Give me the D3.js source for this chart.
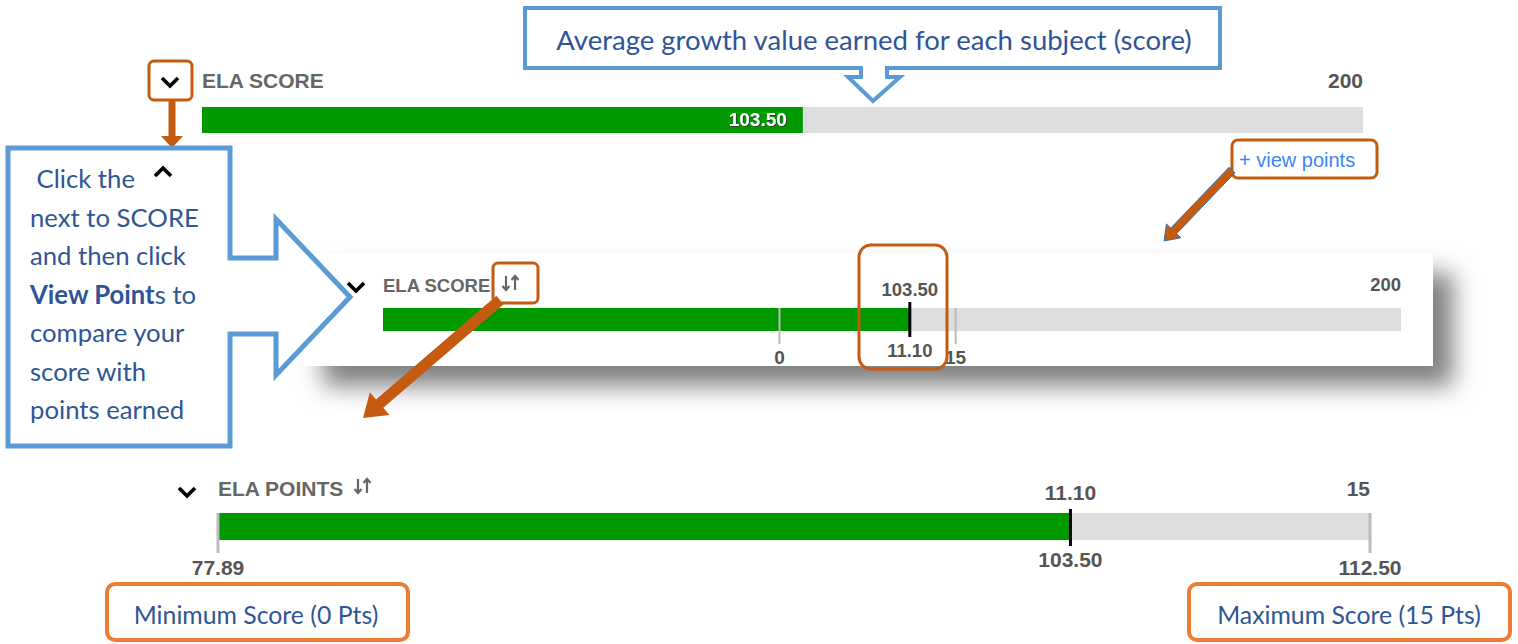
<!DOCTYPE html>
<html>
<head>
<meta charset="utf-8">
<script src="https://cdn.jsdelivr.net/npm/d3@7"></script>
<style>
  body { margin: 0; background: #fff; }
  svg { display: block; }
  .lbl { font-family: "Liberation Sans", Arial, sans-serif; font-weight: bold; fill: #666; }
  .num { font-family: "Liberation Sans", Arial, sans-serif; font-weight: bold; fill: #555; }
  .note { font-family: Lato, "Open Sans", sans-serif; fill: #2F5597; }
</style>
</head>
<body>
<svg id="chart"></svg>
<script>
// data
var subject = ["ELA"];
var scoreDomain = [0, 200];           // score scale of the subject bar
var pointsDomain = [0, 15];           // points that can be earned
var pointsScoreBounds = [77.89, 112.50]; // score earning 0 pts and 15 pts
var elaScore = [103.50];
var elaPoints = [11.10];
var calloutTop = ["Average growth value earned for each subject (score)"];
var calloutLeft = [" Click the", "next to SCORE", "and then click", "View Points to", "compare your", "score with", "points earned"];
var boxNotes = ["Minimum Score (0 Pts)", "Maximum Score (15 Pts)"];

var width = 1518, height = 644;
var fmt = d3.format(".2f");
var green = "#009900", track = "#dddddd", orange = "#C55A11", blue = "#5B9BD5";

var svg = d3.select("#chart").attr("width", width).attr("height", height);

var defs = svg.append("defs");
var shadow = defs.append("filter").attr("id", "shadow")
    .attr("x", "-20%").attr("y", "-60%").attr("width", "140%").attr("height", "220%");
shadow.append("feDropShadow")
    .attr("dx", 20).attr("dy", 20).attr("stdDeviation", 12)
    .attr("flood-color", "#000").attr("flood-opacity", 0.5);
var txtShadow = defs.append("filter").attr("id", "txtShadow");
txtShadow.append("feDropShadow")
    .attr("dx", 1).attr("dy", 1).attr("stdDeviation", 0.4)
    .attr("flood-color", "#333").attr("flood-opacity", 0.8);

function chevron(g, cx, cy, up) {
  var s = up ? -1 : 1;
  g.append("path")
    .attr("d", `M${cx - 8},${cy - 4 * s} L${cx},${cy + 4 * s} L${cx + 8},${cy - 4 * s}`)
    .attr("fill", "none").attr("stroke", "#000").attr("stroke-width", 3.6);
}

function sortIcon(g, x, y, h) {
  // down arrow then up arrow
  var c = "#666";
  g.append("path")
    .attr("d", `M${x},${y} V${y + h} M${x - 3.5},${y + h - 4} L${x},${y + h} L${x + 3.5},${y + h - 4}`)
    .attr("fill", "none").attr("stroke", c).attr("stroke-width", 2.2);
  g.append("path")
    .attr("d", `M${x + 9},${y + h} V${y} M${x + 5.5},${y + 4} L${x + 9},${y} L${x + 12.5},${y + 4}`)
    .attr("fill", "none").attr("stroke", c).attr("stroke-width", 2.2);
}

function arrow(g, x1, y1, x2, y2, w, hw, hl) {
  var dx = x2 - x1, dy = y2 - y1, len = Math.hypot(dx, dy);
  var ux = dx / len, uy = dy / len, px = -uy, py = ux;
  var bx = x2 - ux * hl, by = y2 - uy * hl;
  var pts = [
    [x1 + px * w / 2, y1 + py * w / 2],
    [bx + px * w / 2, by + py * w / 2],
    [bx + px * hw / 2, by + py * hw / 2],
    [x2, y2],
    [bx - px * hw / 2, by - py * hw / 2],
    [bx - px * w / 2, by - py * w / 2],
    [x1 - px * w / 2, y1 - py * w / 2]
  ];
  return g.append("polygon").attr("points", pts.map(p => p.join(",")).join(" "))
    .attr("fill", orange);
}

function roundBox(g, x, y, w, h, r, color, sw) {
  g.append("rect").attr("x", x).attr("y", y).attr("width", w).attr("height", h)
    .attr("rx", r).attr("fill", "none").attr("stroke", color).attr("stroke-width", sw);
}

// ---------- top: score bar ----------
var topG = svg.append("g");
var xTop = d3.scaleLinear().domain(scoreDomain).range([202, 1363]);

topG.append("text").classed("lbl", true)
    .attr("x", xTop(scoreDomain[0])).attr("y", 88)
    .style("font-size", "21px")
    .text(`${subject[0]} SCORE`);
topG.append("text").classed("num", true)
    .attr("x", xTop(scoreDomain[1])).attr("y", 88)
    .attr("text-anchor", "end").style("font-size", "21px")
    .text(scoreDomain[1]);
topG.append("rect")
    .attr("x", xTop(scoreDomain[0])).attr("y", 107)
    .attr("width", xTop(scoreDomain[1]) - xTop(scoreDomain[0])).attr("height", 26)
    .attr("fill", track);
topG.selectAll(".bar").data(elaScore).enter().append("rect").classed("bar", true)
    .attr("x", xTop(scoreDomain[0])).attr("y", 107)
    .attr("width", d => xTop(d) - xTop(scoreDomain[0])).attr("height", 26)
    .attr("fill", green);
topG.selectAll(".val").data(elaScore).enter().append("text").classed("val", true)
    .attr("x", d => xTop(d) - 16).attr("y", 126)
    .attr("text-anchor", "end")
    .attr("filter", "url(#txtShadow)")
    .style("font-family", "'Liberation Sans', Arial, sans-serif")
    .style("font-weight", "bold").style("font-size", "19px").style("fill", "#fff")
    .text(d => fmt(d));
chevron(topG, 170, 82, false);

// ---------- middle: score bar with points ticks ----------
var mid = svg.append("g");
mid.append("rect")
    .attr("x", 303).attr("y", 253).attr("width", 1130).attr("height", 113)
    .attr("fill", "#fff").attr("filter", "url(#shadow)");
var xMid = d3.scaleLinear().domain(scoreDomain).range([383, 1401]);

mid.append("text").classed("lbl", true)
    .attr("x", xMid(scoreDomain[0])).attr("y", 292)
    .style("font-size", "18.5px")
    .text(`${subject[0]} SCORE`);
mid.append("text").classed("num", true)
    .attr("x", xMid(scoreDomain[1])).attr("y", 291)
    .attr("text-anchor", "end").style("font-size", "18.5px")
    .text(scoreDomain[1]);
mid.append("rect")
    .attr("x", xMid(scoreDomain[0])).attr("y", 308)
    .attr("width", xMid(scoreDomain[1]) - xMid(scoreDomain[0])).attr("height", 23)
    .attr("fill", track);
mid.selectAll(".bar").data(elaScore).enter().append("rect").classed("bar", true)
    .attr("x", xMid(scoreDomain[0])).attr("y", 308)
    .attr("width", d => xMid(d) - xMid(scoreDomain[0])).attr("height", 23)
    .attr("fill", green);
// points ticks (0 pts and 15 pts on the score scale)
mid.selectAll(".ptick").data(pointsScoreBounds).enter().append("line").classed("ptick", true)
    .attr("x1", d => xMid(d)).attr("x2", d => xMid(d))
    .attr("y1", 308).attr("y2", 344)
    .attr("stroke", "#bbb").attr("stroke-width", 2);
mid.selectAll(".plbl").data(pointsScoreBounds).enter().append("text").classed("plbl num", true)
    .attr("x", d => xMid(d)).attr("y", 364)
    .attr("text-anchor", "middle").style("font-size", "19px")
    .text((d, i) => pointsDomain[i]);
mid.selectAll(".mark").data(elaScore).enter().append("line").classed("mark", true)
    .attr("x1", d => xMid(d)).attr("x2", d => xMid(d))
    .attr("y1", 302).attr("y2", 337)
    .attr("stroke", "#000").attr("stroke-width", 3);
mid.selectAll(".sval").data(elaScore).enter().append("text").classed("num", true)
    .attr("x", d => xMid(d)).attr("y", 296)
    .attr("text-anchor", "middle").style("font-size", "18.5px")
    .text(d => fmt(d));
mid.selectAll(".pval").data(elaPoints).enter().append("text").classed("num", true)
    .attr("x", (d, i) => xMid(elaScore[i])).attr("y", 357)
    .attr("text-anchor", "middle").style("font-size", "18.5px")
    .text(d => fmt(d));
chevron(mid, 356, 287, false);
sortIcon(mid, 506, 276, 14);

// ---------- bottom: points bar ----------
var bot = svg.append("g");
var xBot = d3.scaleLinear().domain(pointsScoreBounds).range([218, 1370]);
var xPts = d3.scaleLinear().domain(pointsDomain).range([218, 1370]);

bot.append("text").classed("lbl", true)
    .attr("x", xPts(pointsDomain[0])).attr("y", 496)
    .style("font-size", "21px")
    .text(`${subject[0]} POINTS`);
bot.append("text").classed("num", true)
    .attr("x", xPts(pointsDomain[1])).attr("y", 496)
    .attr("text-anchor", "end").style("font-size", "21px")
    .text(pointsDomain[1]);
bot.append("rect")
    .attr("x", xPts(pointsDomain[0])).attr("y", 513)
    .attr("width", xPts(pointsDomain[1]) - xPts(pointsDomain[0])).attr("height", 27)
    .attr("fill", track);
bot.selectAll(".bar").data(elaPoints).enter().append("rect").classed("bar", true)
    .attr("x", xPts(pointsDomain[0])).attr("y", 513)
    .attr("width", d => xPts(d) - xPts(pointsDomain[0])).attr("height", 27)
    .attr("fill", green);
bot.selectAll(".stick").data(pointsScoreBounds).enter().append("line").classed("stick", true)
    .attr("x1", d => xBot(d)).attr("x2", d => xBot(d))
    .attr("y1", 513).attr("y2", 553)
    .attr("stroke", "#bbb").attr("stroke-width", 3);
bot.selectAll(".slbl").data(pointsScoreBounds).enter().append("text").classed("num", true)
    .attr("x", d => xBot(d)).attr("y", 575)
    .attr("text-anchor", "middle").style("font-size", "21px")
    .text(d => fmt(d));
bot.selectAll(".mark").data(elaScore).enter().append("line").classed("mark", true)
    .attr("x1", d => xBot(d)).attr("x2", d => xBot(d))
    .attr("y1", 509).attr("y2", 546)
    .attr("stroke", "#000").attr("stroke-width", 3);
bot.selectAll(".sval").data(elaScore).enter().append("text").classed("num", true)
    .attr("x", d => xBot(d)).attr("y", 567)
    .attr("text-anchor", "middle").style("font-size", "21px")
    .text(d => fmt(d));
bot.selectAll(".pval").data(elaPoints).enter().append("text").classed("num", true)
    .attr("x", d => xPts(d)).attr("y", 500)
    .attr("text-anchor", "middle").style("font-size", "21px")
    .text(d => fmt(d));
chevron(bot, 187, 492, false);
sortIcon(bot, 358, 479, 14);

// ---------- annotations ----------
var ann = svg.append("g");

// top callout
ann.append("path")
    .attr("d", "M525,8 H1220 V68 H887 V77 H900 L873,101 L848,77 H861 V68 H525 Z")
    .attr("fill", "#fff").attr("stroke", blue).attr("stroke-width", 4);
ann.append("text").classed("note", true)
    .attr("x", 874).attr("y", 50).attr("text-anchor", "middle")
    .style("font-size", "27.5px")
    .text(calloutTop[0]);

// chevron box + arrow down to left callout
roundBox(ann, 149, 61, 43, 39, 5, orange, 3);
arrow(ann, 172, 101, 172, 148, 7, 22, 12);

// left callout
ann.append("path")
    .attr("d", "M8,148 H230 V258 H276 V219 L350,297 L276,375 V334 H230 V446 H8 Z")
    .attr("fill", "#fff").attr("stroke", blue).attr("stroke-width", 5);
var lt = ann.append("text").classed("note", true).style("font-size", "25.7px");
calloutLeft.forEach(function(line, i) {
  var t = lt.append("tspan").attr("x", 30).attr("y", 188 + i * 38.5)
      .attr("xml:space", "preserve");
  if (line.indexOf("View Point") === 0) {
    t.append("tspan").style("font-weight", "bold").text("View Point");
    t.append("tspan").text(line.slice("View Point".length));
  } else {
    t.text(line);
  }
});
chevron(ann, 163, 172, true);

// view points link
roundBox(ann, 1232, 140, 145, 38, 6, orange, 3);
ann.append("text")
    .attr("x", 1239).attr("y", 167)
    .style("font-family", "'Liberation Sans', Arial, sans-serif")
    .style("font-size", "20px").style("fill", "#3D85F5")
    .text("+ view points");
arrow(ann, 1232, 170, 1164, 241, 8, 20, 14)
    .attr("stroke", "#2E75B6").attr("stroke-width", 1);

// sort icon box + arrow
roundBox(ann, 493, 263, 45, 40, 5, orange, 3);
arrow(ann, 500, 300, 363, 418, 11, 30, 22);

// value box in middle panel
roundBox(ann, 859, 245, 88, 124, 12, orange, 3);

// bottom notes
roundBox(ann, 107, 584, 301, 56, 8, "#ED7D31", 4);
roundBox(ann, 1189, 584, 321, 56, 8, "#ED7D31", 4);
ann.append("text").classed("note", true)
    .attr("x", 256).attr("y", 624).attr("text-anchor", "middle")
    .style("font-size", "24.8px").text(boxNotes[0]);
ann.append("text").classed("note", true)
    .attr("x", 1349).attr("y", 624).attr("text-anchor", "middle")
    .style("font-size", "24.8px").text(boxNotes[1]);
</script>
</body>
</html>
